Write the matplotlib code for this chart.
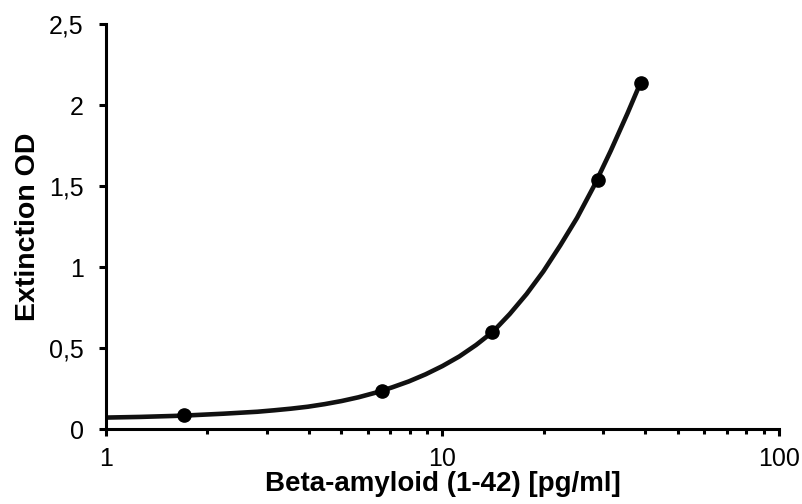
import matplotlib
matplotlib.use("Agg")
import matplotlib.pyplot as plt
from matplotlib.ticker import FixedLocator, LogLocator, NullFormatter

plt.rcParams['font.family'] = ['Liberation Sans', 'DejaVu Sans']

# standard points (concentration in pg/ml, extinction OD)
conc = [1.71, 6.6, 14.0, 28.9, 38.9]
od = [0.090, 0.236, 0.599, 1.540, 2.137]

# fitted curve
curve_x = [1.00, 1.122, 1.259, 1.413, 1.585, 1.778, 1.995, 2.239, 2.512, 2.818,
           3.162, 3.548, 3.981, 4.467, 5.012, 5.623, 6.310, 7.079, 7.943, 8.913,
           10.00, 11.22, 12.59, 14.13, 15.85, 17.78, 19.95, 22.39, 25.12, 28.18,
           31.62, 35.48, 38.90]
curve_y = [0.073, 0.075, 0.077, 0.080, 0.083, 0.087, 0.092, 0.097, 0.103, 0.109,
           0.118, 0.128, 0.140, 0.156, 0.175, 0.198, 0.226, 0.259, 0.296, 0.340,
           0.391, 0.450, 0.521, 0.603, 0.712, 0.835, 0.975, 1.135, 1.305, 1.500,
           1.718, 1.950, 2.145]

y_ticks = [0, 0.5, 1, 1.5, 2, 2.5]
y_labels = ["0", "0,5", "1", "1,5", "2", "2,5"]
x_ticks = [1, 10, 100]
x_labels = ["1", "10", "100"]

fig = plt.figure(figsize=(8.03, 5.04), dpi=100)
ax = fig.add_axes([0.132, 0.148, 0.838, 0.804])

ax.plot(curve_x, curve_y, color='#111111', lw=3.3, solid_capstyle='round',
        solid_joinstyle='round', zorder=2)
ax.plot(conc, od, 'o', color='black', ms=9.5, zorder=3)

ax.set_xscale('log')
ax.set_xlim(1, 100)
ax.set_ylim(0, 2.5)

ax.xaxis.set_major_locator(FixedLocator(x_ticks))
ax.set_xticklabels(x_labels)
ax.xaxis.set_minor_locator(LogLocator(base=10, subs=range(2, 10)))
ax.xaxis.set_minor_formatter(NullFormatter())
ax.set_yticks(y_ticks)
ax.set_yticklabels(y_labels)

for s in ['top', 'right']:
    ax.spines[s].set_visible(False)
for s in ['left', 'bottom']:
    ax.spines[s].set_linewidth(2.2)

ax.tick_params(axis='both', which='major', direction='out', length=5, width=2.2,
               labelsize=18)
ax.tick_params(axis='y', which='major', pad=11)
ax.tick_params(axis='x', which='major', pad=8)
ax.tick_params(axis='x', which='minor', direction='out', length=3.5, width=2.2)

ax.set_xlabel("Beta-amyloid (1-42) [pg/ml]", fontsize=20, fontweight='bold', labelpad=0)
ax.set_ylabel("Extinction OD", fontsize=20.5, fontweight='bold', labelpad=6)

fig.savefig("out.png", dpi=100)
